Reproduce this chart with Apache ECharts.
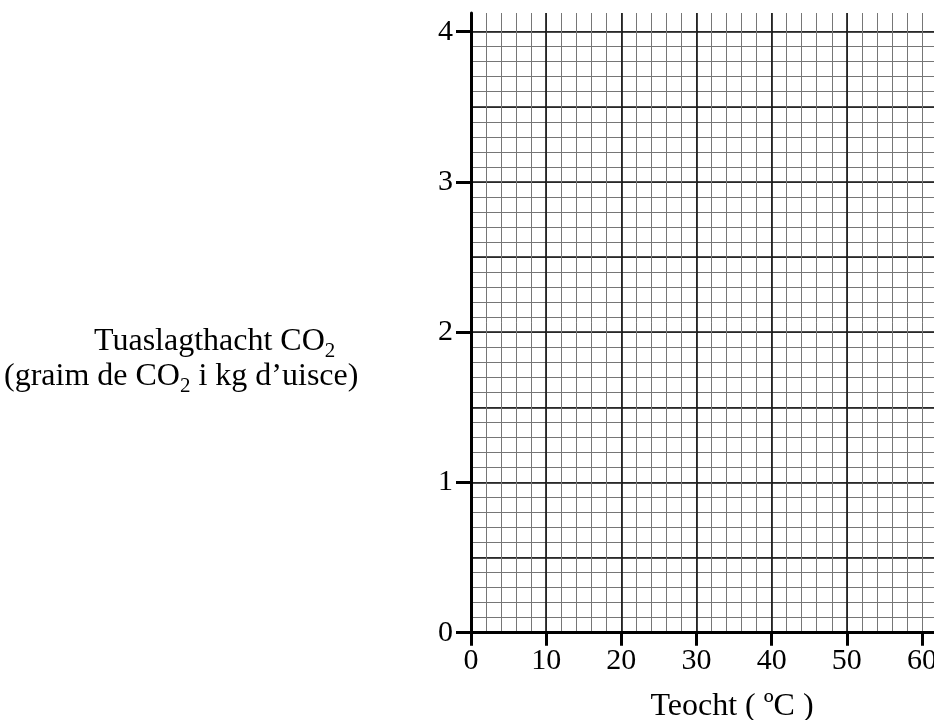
<!DOCTYPE html>
<html>
<head>
<meta charset="utf-8">
<script src="https://cdn.jsdelivr.net/npm/echarts@6/dist/echarts.min.js"></script>
<style>
html,body{margin:0;padding:0;background:#fff;}
#c{width:934px;height:720px;}
</style>
</head>
<body>
<div id="c"></div>
<script>
const xTickValues = [0, 10, 20, 30, 40, 50, 60];
const yTickValues = [0, 1, 2, 3, 4];
const xRange = [0, 61.6];
const yRange = [0, 4.124];
const yMinorTop = 4.1;
const xMajorStep = 10, xMinorStep = 2;
const yMajorStep = 0.5, yMinorStep = 0.1;
const xTitle = 'Teocht ( ºC )';
const yTitleLine1 = ['Tuaslagthacht CO', '2', ''];
const yTitleLine2 = ['(graim de CO', '2', ' i kg d’uisce)'];
const seriesData = [];

const F = '"Liberation Serif", "Times New Roman", serif';
const minorStyle = { color: '#767676', width: 1 };
const majorStyle = { color: '#111111', width: 1.6 };

const chart = echarts.init(document.getElementById('c'), null, { renderer: 'canvas' });

function richLine(parts) {
  let s = '{m|' + parts[0] + '}{s|' + parts[1] + '}';
  if (parts[2]) s += '{m|' + parts[2] + '}';
  return s;
}
const rich = {
  m: { fontSize: 32, fontFamily: F, color: '#000', lineHeight: 38, verticalAlign: 'middle' },
  s: { fontSize: 21, fontFamily: F, color: '#000', lineHeight: 38, verticalAlign: 'middle', padding: [19, 0, 0, 0] }
};

const gridTop = 13, gridBottom = 87.3;
const plotH = 720 - gridTop - gridBottom;
const minorTop = gridTop + (yRange[1] - yMinorTop) / yRange[1] * plotH;

const option = {
  backgroundColor: '#fff',
  animation: false,
  grid: [
    { left: 471, right: 0, top: gridTop, bottom: gridBottom, containLabel: false, outerBoundsMode: 'none' },
    { left: 471, right: 0, top: minorTop, bottom: gridBottom, containLabel: false, outerBoundsMode: 'none' }
  ],
  xAxis: [
    { // minor vertical lines
      type: 'value', gridIndex: 0, position: 'bottom', min: xRange[0], max: xRange[1], interval: xMinorStep,
      axisLine: { show: false }, axisTick: { show: false }, axisLabel: { show: false },
      splitLine: { show: true, showMinLine: false, showMaxLine: false, lineStyle: minorStyle }
    },
    { // major vertical lines + axis
      type: 'value', gridIndex: 0, position: 'bottom', offset: 0, min: xRange[0], max: xRange[1], interval: xMajorStep,
      axisLine: { show: true, onZero: false, lineStyle: { color: '#000', width: 3 } },
      axisTick: { show: true, inside: false, length: 13, lineStyle: { color: '#000', width: 3 }, customValues: xTickValues },
      axisLabel: { show: true, margin: 13, fontSize: 30, fontFamily: F, color: '#000', customValues: xTickValues },
      splitLine: { show: true, showMinLine: false, showMaxLine: false, lineStyle: majorStyle }
    },
    {
      type: 'value', gridIndex: 1, position: 'bottom', min: xRange[0], max: xRange[1], show: false,
      splitLine: { show: false }
    }
  ],
  yAxis: [
    { // minor horizontal lines
      type: 'value', gridIndex: 1, position: 'left', min: yRange[0], max: yMinorTop, interval: yMinorStep,
      axisLine: { show: false }, axisTick: { show: false }, axisLabel: { show: false },
      splitLine: { show: true, showMinLine: false, showMaxLine: false, lineStyle: minorStyle }
    },
    { // major horizontal lines
      type: 'value', gridIndex: 0, position: 'left', min: yRange[0], max: yRange[1], interval: yMajorStep,
      axisLine: { show: false }, axisTick: { show: false }, axisLabel: { show: false },
      splitLine: { show: true, showMinLine: false, showMaxLine: false, lineStyle: majorStyle }
    },
    { // axis with ticks and labels
      type: 'value', gridIndex: 0, position: 'left', offset: 0, min: yRange[0], max: yRange[1], interval: 1,
      axisLine: { show: true, onZero: false, lineStyle: { color: '#000', width: 3 } },
      axisTick: { show: true, inside: false, length: 15, lineStyle: { color: '#000', width: 3 }, customValues: yTickValues },
      axisLabel: { show: true, margin: 18, fontSize: 30, fontFamily: F, color: '#000', customValues: yTickValues },
      splitLine: { show: false }
    }
  ],
  series: [
    { type: 'line', xAxisIndex: 1, yAxisIndex: 2, data: seriesData }
  ],
  graphic: [
    { type: 'text', style: { text: xTitle, x: 732, y: 707, align: 'center', verticalAlign: 'middle', fontSize: 32, fontFamily: F, fill: '#000' } },
    { type: 'text', style: { text: richLine(yTitleLine1), x: 94, y: 342, align: 'left', verticalAlign: 'middle', rich: rich, fill: '#000' } },
    { type: 'text', style: { text: richLine(yTitleLine2), x: 4, y: 377, align: 'left', verticalAlign: 'middle', rich: rich, fill: '#000' } }
  ]
};
chart.setOption(option);
</script>
</body>
</html>
